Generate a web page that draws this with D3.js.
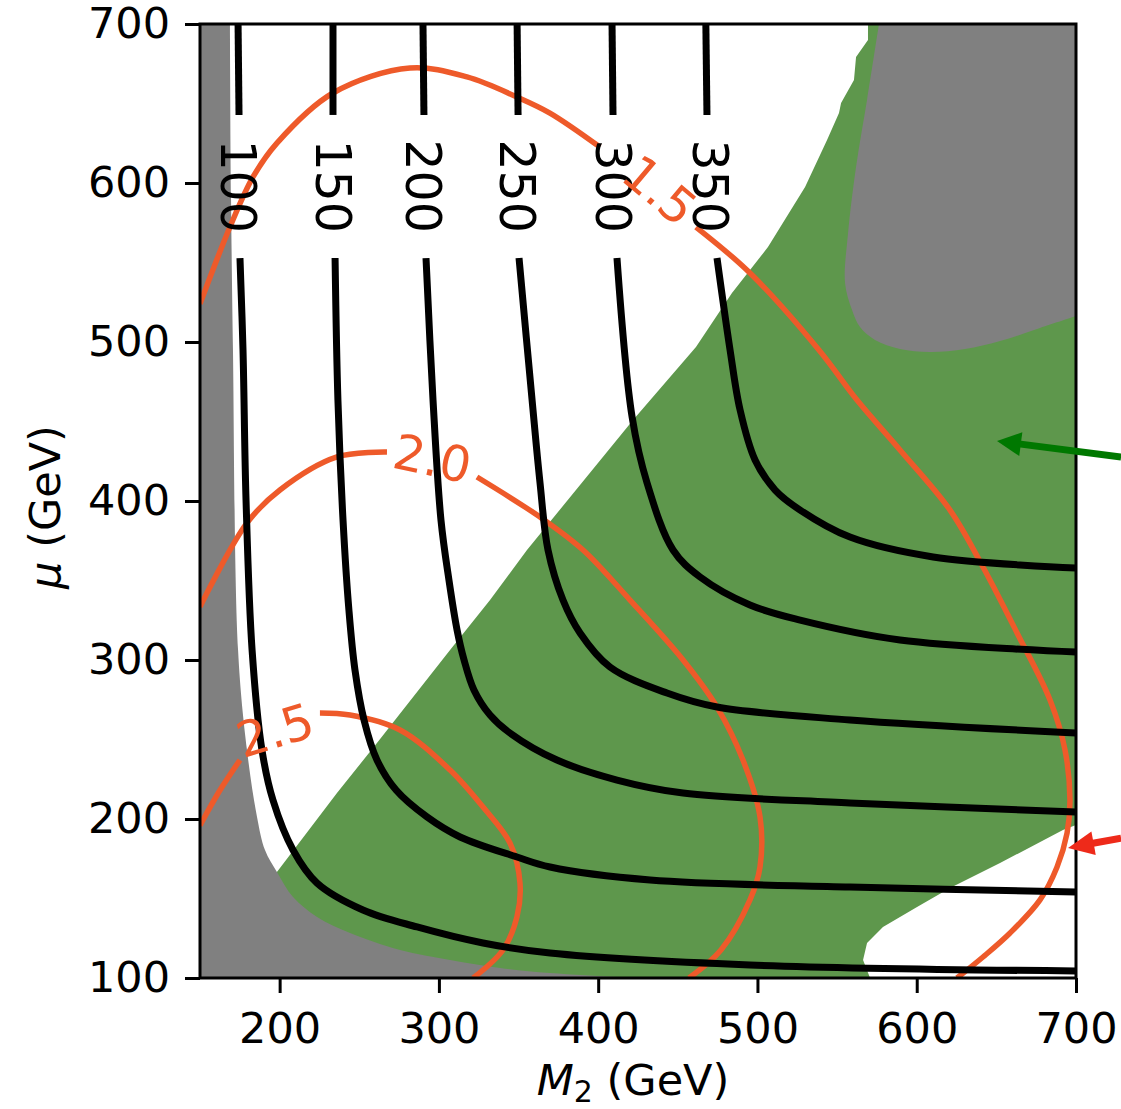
<!DOCTYPE html>
<html>
<head>
<meta charset="utf-8">
<script src="https://cdn.jsdelivr.net/npm/d3@7"></script>
<style>
  body { margin: 0; background: #fff; }
  text { font-family: "DejaVu Sans", sans-serif; }
</style>
</head>
<body>
<svg id="chart" width="1121" height="1109"></svg>
<script>
// ─── Data (M2 GeV, mu GeV) ─────────────────────────────────

const m2Ticks = [200, 300, 400, 500, 600, 700];
const muTicks = [100, 200, 300, 400, 500, 600, 700];

// excluded (grey) and allowed (green) regions
const greyLeftEdge = [[168.8, 700], [169.5, 589.3], [170.7, 495.0], [173.9, 306.3], [179.5, 243.4],
  [185.8, 201.3], [190.8, 180.5], [198.3, 166.7], [208.4, 150.9], [223.5, 138.4], [244.2, 128.3],
  [275.6, 117.6], [307.0, 111.3], [338.4, 106.3], [369.7, 103.1], [413.7, 100.6], [451.3, 100]];
const greyLeftCorners = [[150, 100], [150, 700]];
const greyTopEdge = [[700, 516.3], [677.4, 508.8], [652.3, 500.6], [630.3, 495.6], [608.3, 493.7],
  [589.5, 495.6], [573.8, 501.3], [564.4, 509.4], [559.4, 520.1], [555.0, 537.1], [556.9, 568.5],
  [561.9, 610.0], [568.8, 652.2], [576.3, 700]];
const greyTopCorners = [[700, 700]];
const greenZone = [[569.4, 700], [700, 700], [700, 196.2], [691.8, 193.1], [652.3, 172.3], [620.9, 156.6],
  [600.2, 144.7], [578.8, 132.1], [568.8, 122.0], [566.3, 111.3], [570.7, 100], [198.3, 100],
  [198.3, 166.7], [236.0, 216.3], [261.1, 247.8], [307.0, 306.3], [332.1, 337.7], [355.3, 369.2],
  [421.9, 450.9], [461.4, 496.9], [484.0, 530.8], [506.6, 559.7], [529.9, 597.5], [543.7, 627.0],
  [551.2, 644.0], [552.5, 650.3], [560.6, 664.8], [561.9, 679.2], [569.4, 689.9]];

// chargino mass contours (black); each split by its inline label
const massLevels = [100, 150, 200, 250, 300, 350];
const massLabelM2 = [174.5, 234.1, 290.6, 349.7, 410.0, 470.8];
const massLabelMu = 598;
const chi100Top = [[173.9, 700], [174.5, 642.8]];
const chi100 = [[175.1, 552.8], [177.0, 495.0], [178.9, 400.6], [182.7, 306.3], [188.9, 243.4], [195.8, 211.9],
  [208.4, 180.5], [223.5, 159.7], [252.3, 142.8], [286.3, 132.1], [327.7, 122.0], [369.8, 115.7],
  [495.3, 108.2], [700, 104.4]];
const chi150Top = [[233.5, 700], [233.5, 642.8]];
const chi150 = [[234.8, 552.8], [236.6, 463.5], [239.8, 388.0], [243.5, 331.4], [247.3, 293.7], [253.0, 262.2],
  [261.1, 237.1], [273.1, 218.2], [292.5, 201.3], [313.3, 188.7], [349.0, 176.1], [369.8, 169.8],
  [432.6, 161.6], [558.1, 157.2], [700, 154.1]];
const chi200Top = [[290.0, 700], [290.6, 642.8]];
const chi200 = [[291.9, 552.8], [296.3, 463.5], [301.3, 388.0], [306.3, 350.3], [311.4, 318.9], [315.8, 300.0],
  [322.0, 281.2], [332.1, 265.4], [344.6, 254.1], [374.1, 237.1], [411.8, 224.5], [453.3, 216.3],
  [558.1, 210.1], [700, 204.4]];
const chi250Top = [[349.1, 700], [349.7, 642.8]];
const chi250 = [[350.3, 552.8], [358.5, 463.5], [363.5, 411.3], [368.5, 369.2], [377.9, 337.7], [388.6, 317.0],
  [407.4, 295.6], [443.2, 279.2], [474.6, 270.4], [558.1, 262.3], [700, 254.1]];
const chi300Top = [[408.7, 700], [409.3, 642.8]];
const chi300 = [[411.8, 552.8], [421.3, 452.8], [430.7, 411.3], [447.0, 369.2], [464.0, 352.2], [495.3, 334.6],
  [526.8, 325.1], [589.5, 312.6], [700, 305.0]];
const chi350Top = [[467.6, 700], [468.3, 642.8]];
const chi350 = [[474.6, 552.8], [482.8, 495.0], [489.1, 457.2], [498.5, 425.8], [511.1, 406.9], [526.8, 394.3],
  [558.1, 377.3], [610.3, 364.8], [700, 357.8]];

// ratio contours (orange)
const ratioLabels = ["1.5", "2.0", "2.5"];
const ratioLabelPos = [[438.8, 595.6], [296.0, 427.0], [197.1, 256.0]];
const ratioLabelRot = [40, 12, -17];
const r15a = [[150, 524.0], [168.8, 572.3], [183.3, 603.8], [198.3, 625.1], [233.5, 656.6], [281.8, 672.3],
  [317.6, 666.7], [349.0, 654.1], [369.7, 644.0], [401.1, 622.6]];
const r15b = [[461.4, 572.3], [495.3, 543.4], [538.6, 495.0], [562.5, 463.5], [589.5, 432.1], [620.9, 394.3],
  [641.6, 358.5], [663.0, 317.0], [683.7, 274.8], [693.1, 243.4], [696.2, 211.9], [694.4, 191.2],
  [688.1, 169.8], [677.4, 149.1], [658.6, 128.3], [641.6, 113.2], [625.3, 100]];
const r20a = [[150, 333.5], [179.5, 386.2], [200.2, 406.9], [236.0, 427.7], [267.4, 430.8]];
const r20b = [[323.9, 415.1], [363.5, 389.9], [390.5, 369.2], [420.0, 337.7], [453.3, 300.0], [474.6, 270.4],
  [490.9, 237.1], [501.6, 201.3], [501.6, 169.8], [495.3, 149.1], [477.1, 117.6], [457.0, 100]];
const r25a = [[150, 196.0], [162.6, 218.2], [175.1, 237.1]];
const r25b = [[225.3, 266.7], [244.2, 265.4], [275.6, 256.0], [307.0, 230.8], [327.7, 207.5], [344.6, 184.9],
  [350.9, 159.7], [349.0, 138.4], [340.2, 117.6], [321.5, 100]];

// annotation arrows: [tail, tip]
const greenArrow = [[728.3, 427.7], [650.4, 437.7]];
const redArrow = [[728.3, 188.0], [695.0, 181.8]];

// ─── Chart ─────────────────────────────────────────────────

const svg = d3.select("#chart");
const x = d3.scaleLinear().domain([150, 700]).range([200, 1076]);
const y = d3.scaleLinear().domain([100, 700]).range([978, 24]);

const curve = d3.line().x(d => x(d[0])).y(d => y(d[1])).curve(d3.curveCatmullRom.alpha(0.5));
const poly = d3.line().x(d => x(d[0])).y(d => y(d[1])).curve(d3.curveLinearClosed);
// smooth boundary closed off with straight runs to the plot corners
const region = (edge, corners) =>
  curve(edge) + corners.map(c => `L${x(c[0])},${y(c[1])}`).join("") + "Z";

svg.append("clipPath").attr("id", "plot")
  .append("rect").attr("x", 200).attr("y", 24).attr("width", 876).attr("height", 954);

const plot = svg.append("g").attr("clip-path", "url(#plot)");

plot.append("path").attr("d", poly(greenZone)).attr("fill", "#5e974c");
plot.append("path").attr("d", region(greyLeftEdge, greyLeftCorners)).attr("fill", "#808080");
plot.append("path").attr("d", region(greyTopEdge, greyTopCorners)).attr("fill", "#808080");

const orange = "#ee5a2a";
[r15a, r15b, r20a, r20b, r25a, r25b].forEach(seg => {
  plot.append("path").attr("d", curve(seg)).attr("fill", "none")
    .attr("stroke", orange).attr("stroke-width", 5.5);
});

[chi100Top, chi100, chi150Top, chi150, chi200Top, chi200, chi250Top, chi250, chi300Top, chi300, chi350Top, chi350]
  .forEach(seg => {
    plot.append("path").attr("d", curve(seg)).attr("fill", "none")
      .attr("stroke", "#000").attr("stroke-width", 7);
  });

// inline contour labels
massLevels.forEach((lv, i) => {
  svg.append("text")
    .attr("transform", `translate(${x(massLabelM2[i])},${y(massLabelMu)}) rotate(90)`)
    .attr("text-anchor", "middle").attr("dy", "0.36em")
    .attr("font-size", 49).attr("fill", "#000")
    .text(lv);
});
ratioLabels.forEach((t, i) => {
  const p = ratioLabelPos[i];
  svg.append("text")
    .attr("transform", `translate(${x(p[0])},${y(p[1])}) rotate(${ratioLabelRot[i]})`)
    .attr("text-anchor", "middle").attr("dy", "0.36em")
    .attr("font-size", 49).attr("fill", orange)
    .text(t);
});

// frame
svg.append("rect").attr("x", 200).attr("y", 24).attr("width", 876).attr("height", 954)
  .attr("fill", "none").attr("stroke", "#000").attr("stroke-width", 3);

// axes
svg.append("g").attr("transform", "translate(0,978)")
  .call(d3.axisBottom(x).tickValues(m2Ticks).tickSize(15).tickPadding(19).tickSizeOuter(0))
  .attr("font-size", 43).attr("font-family", "DejaVu Sans")
  .call(g => g.select(".domain").remove())
  .call(g => g.selectAll("line").attr("stroke-width", 3));

svg.append("g").attr("transform", "translate(200,0)")
  .call(d3.axisLeft(y).tickValues(muTicks).tickSize(15).tickPadding(15).tickSizeOuter(0))
  .attr("font-size", 43).attr("font-family", "DejaVu Sans")
  .call(g => g.select(".domain").remove())
  .call(g => g.selectAll("line").attr("stroke-width", 3));

// axis titles
const xt = svg.append("text").attr("x", 633).attr("y", 1095)
  .attr("text-anchor", "middle").attr("font-size", 43);
xt.append("tspan").attr("font-style", "italic").text("M");
xt.append("tspan").attr("font-size", 30).attr("dy", 7).text("2");
xt.append("tspan").attr("dy", -7).text(" (GeV)");

const yt = svg.append("text").attr("transform", "translate(60,507) rotate(-90)")
  .attr("text-anchor", "middle").attr("font-size", 43);
yt.append("tspan").attr("font-style", "italic").text("μ");
yt.append("tspan").text(" (GeV)");

// arrows
function arrow(a, color, headLen, headHalf, width) {
  const x0 = x(a[0][0]), y0 = y(a[0][1]), x1 = x(a[1][0]), y1 = y(a[1][1]);
  const len = Math.hypot(x1 - x0, y1 - y0);
  const ux = (x1 - x0) / len, uy = (y1 - y0) / len;
  const bx = x1 - ux * headLen, by = y1 - uy * headLen;
  svg.append("line").attr("x1", x0).attr("y1", y0).attr("x2", bx + ux * 2).attr("y2", by + uy * 2)
    .attr("stroke", color).attr("stroke-width", width);
  svg.append("path")
    .attr("d", `M${x1},${y1}L${bx - uy * headHalf},${by + ux * headHalf}L${bx + uy * headHalf},${by - ux * headHalf}Z`)
    .attr("fill", color);
}
arrow(greenArrow, "#007800", 24, 12, 7);
arrow(redArrow, "#ee2a1a", 26, 12, 7);
</script>
</body>
</html>
